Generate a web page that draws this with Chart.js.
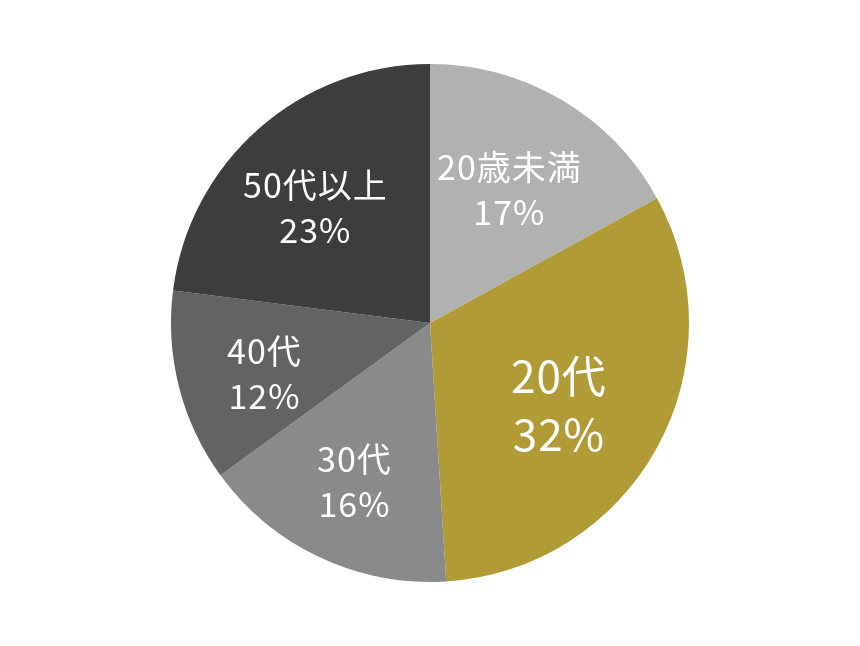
<!DOCTYPE html>
<html>
<head>
<meta charset="utf-8">
<script src="https://cdn.jsdelivr.net/npm/chart.js@4/dist/chart.umd.min.js"></script>
<style>
  html, body { margin: 0; padding: 0; background: #fff; }
  #wrap { width: 860px; height: 646px; }
</style>
</head>
<body>
<div id="wrap"><canvas id="pie"></canvas></div>
<script>
// データ
const categories = ['20歳未満', '20代', '30代', '40代', '50代以上'];
const shares = [17, 32, 16, 12, 23];
const sliceColors = ['#b1b1b1', '#b09b36', '#8a8a8a', '#636363', '#3d3d3d'];

// 扇形の中にラベル(2行)を描く
const sliceLabels = {
    id: 'sliceLabels',
    afterDatasetsDraw(chart) {
        const { ctx } = chart;
        const meta = chart.getDatasetMeta(0);
        const maxVal = Math.max(...shares);
        meta.data.forEach((arc, i) => {
            const mid = (arc.startAngle + arc.endAngle) / 2;
            const big = shares[i] === maxVal;
            // 大きい扇形は少し内側に
            const r = arc.outerRadius * (big ? 0.59 : 0.64);
            // 少し左下に寄せる
            const x = arc.x + Math.cos(mid) * r - 5;
            const y = arc.y + Math.sin(mid) * r + 9;
            const size = big ? 44 : 34;
            const lh = big ? 58 : 45;
            ctx.save();
            ctx.fillStyle = '#ffffff';
            ctx.textAlign = 'center';
            ctx.textBaseline = 'middle';
            ctx.letterSpacing = '1px';
            ctx.font = `400 ${size}px "Noto Sans CJK JP", "Noto Sans", sans-serif`;
            ctx.fillText(categories[i], x, y - lh / 2);
            ctx.fillText(shares[i] + '%', x, y + lh / 2);
            ctx.restore();
        });
    }
};

new Chart(document.getElementById('pie'), {
    type: 'pie',
    data: {
        labels: categories,
        datasets: [{
            data: shares,
            backgroundColor: sliceColors,
            borderWidth: 0
        }]
    },
    options: {
        responsive: true,
        maintainAspectRatio: false,
        animation: false,
        layout: { padding: 64 },
        plugins: {
            legend: { display: false },
            tooltip: { enabled: false }
        }
    },
    plugins: [sliceLabels]
});
</script>
</body>
</html>
